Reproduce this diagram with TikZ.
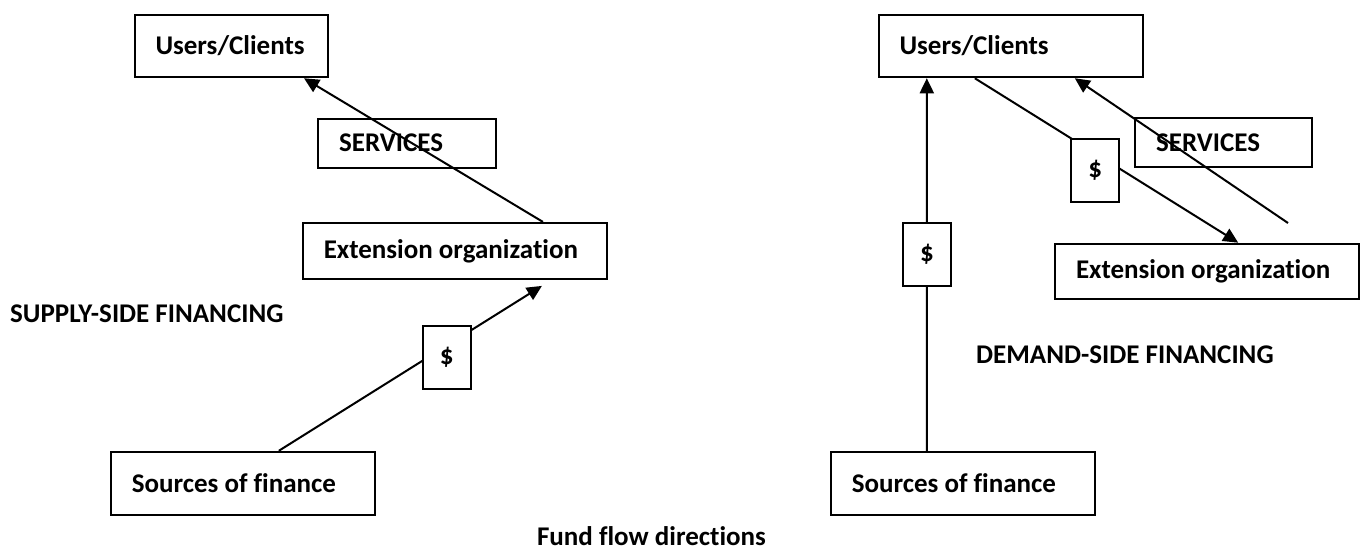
\documentclass[tikz,border=0pt]{standalone}
\usepackage{fontspec}
\setmainfont{Carlito}[Ligatures={NoCommon}]
\usetikzlibrary{arrows.meta}
\newcommand{\lbox}[2]{\makebox[#1][l]{#2}}
\begin{document}
\begin{tikzpicture}[x=1pt,y=-1pt,
  every node/.style={font=\fontsize{27}{30}\selectfont\bfseries},
  box/.style={draw, line width=2pt, rectangle, inner xsep=21pt, inner ysep=0pt},
  money/.style={draw, line width=2pt, fill=white, inner sep=0pt, minimum width=48.4pt, minimum height=63pt},
  label/.style={inner sep=0pt},
  conn/.style={line width=2pt},
  arr/.style={conn, -{Triangle[length=15pt,width=14pt]}},
]
\useasboundingbox (0,0) rectangle (1362,550);

% ---- left: supply-side
\node[box, minimum height=62.5pt] (uc1) at (231,46) {\lbox{151pt}{Users/Clients}};
\node[box, minimum height=49pt] (sv1) at (406.8,143) {\lbox{135.5pt}{SERVICES}};
\node[box, minimum height=56pt] (ex1) at (454.9,250.9) {\lbox{262.3pt}{Extension organization}};
\node[box, minimum height=62.8pt] (sf1) at (242.8,483.2) {\lbox{222pt}{Sources of finance}};
\node[label, anchor=west] (supply) at (10,313.3) {SUPPLY-SIDE FINANCING};

% ---- right: demand-side
\node[box, minimum height=62.7pt] (uc2) at (1010.8,45.9) {\lbox{222.5pt}{Users/Clients}};
\node[box, minimum height=49pt] (sv2) at (1223.4,142.8) {\lbox{134.7pt}{SERVICES}};
\node[box, minimum height=55.6pt] (ex2) at (1207.2,271.5) {\lbox{262.4pt}{Extension organization}};
\node[box, minimum height=62.8pt] (sf2) at (962.9,483.2) {\lbox{222.2pt}{Sources of finance}};
\node[label, anchor=west] (demand) at (976,355) {DEMAND-SIDE FINANCING};

\node[label] (title) at (651.5,536) {Fund flow directions};

% ---- connectors
\draw[arr] ([xshift=88pt]ex1.north) -- ([xshift=73pt]uc1.south);
\draw[arr] ([xshift=36pt]sf1.north) -- ([xshift=87pt,yshift=-6pt]ex1.south);

\draw[arr] ([xshift=-36pt]sf2.north) -- ([xshift=-84pt]uc2.south);
\draw[arr] ([xshift=-36pt]uc2.south) -- ([xshift=31pt]ex2.north);
\coordinate (s2start) at (1288,223);
\draw[arr] (s2start) -- ([xshift=64pt]uc2.south);

% ---- money boxes (drawn over the lines)
\node[money] (d1) at (446.8,357.7) {\$};
\node[money] (d2) at (926.9,254.2) {\$};
\node[money] (d3) at (1095.2,170.5) {\$};
\end{tikzpicture}
\end{document}
